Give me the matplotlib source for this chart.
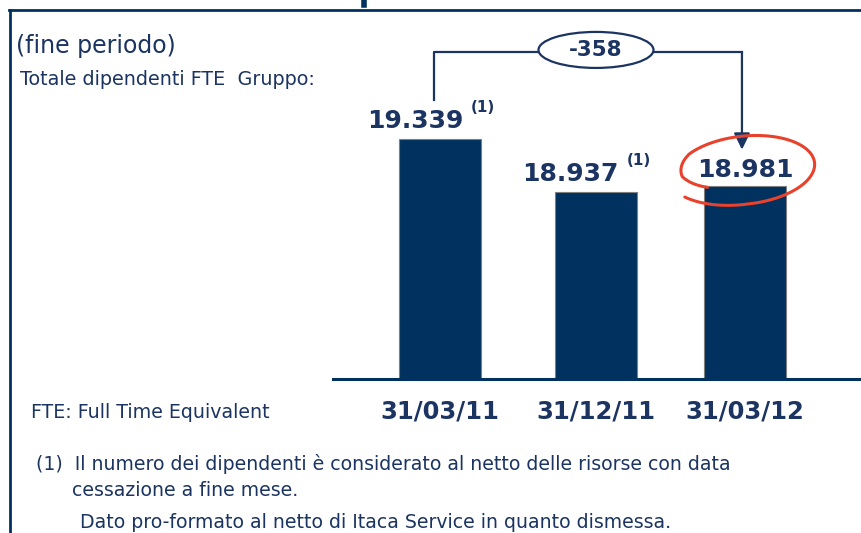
import numpy as np
import matplotlib
matplotlib.use("Agg")
import matplotlib.pyplot as plt
from matplotlib.patches import Ellipse
from matplotlib.lines import Line2D
from matplotlib.transforms import IdentityTransform

# --------------------------------------------------
# DATA
# --------------------------------------------------
dates = ["31/03/11", "31/12/11", "31/03/12"]
values = [19339, 18937, 18981]
notes = ["(1)", "(1)", ""]

footnotes = [
    "(1)  Il numero dei dipendenti è considerato al netto delle risorse con data",
    "cessazione a fine mese.",
    "Dato pro-formato al netto di Itaca Service in quanto dismessa.",
]

NAVY = "#00315f"
TEXT = "#1b3461"
RED = "#e8412c"
W, H = 861, 533

plt.rcParams["font.family"] = ["DejaVu Sans"]


def fmt(v):
    return f"{v:,}".replace(",", ".")


def fx(px):
    return px / W


def fy(py):
    return 1 - py / H


fig = plt.figure(figsize=(W / 100, H / 100), dpi=100)
ax = fig.add_axes([fx(333), fy(379), fx(861 - 333), (379 - 9) / H])

xpos = [0, 1, 1.955]
ax.bar(xpos, values, width=0.526, color=NAVY, edgecolor="#7f7f7f",
       linewidth=0.8, zorder=2)
ax.set_xlim(-0.686, 2.699)
ax.set_ylim(17536, 20311)

for s in ["top", "left", "right"]:
    ax.spines[s].set_visible(False)
ax.spines["bottom"].set_color(NAVY)
ax.spines["bottom"].set_linewidth(2.2)
ax.set_yticks([])
ax.set_xticks(xpos)
ax.set_xticklabels(dates, fontsize=17.5, fontweight="bold", color=TEXT)
ax.tick_params(axis="x", length=0, pad=15)

# value labels (with footnote marker)
for x, v, n in zip(xpos, values, notes):
    if n:
        ax.annotate(fmt(v), (x, v), xytext=(23, 11), textcoords="offset pixels",
                    ha="right", va="baseline", fontsize=18, fontweight="bold",
                    color=TEXT)
        ax.annotate(n, (x, v), xytext=(31, 27), textcoords="offset pixels",
                    ha="left", va="baseline", fontsize=11, fontweight="bold",
                    color=TEXT)
    else:
        ax.annotate(fmt(v), (x, v), xytext=(0, 9), textcoords="offset pixels",
                    ha="center", va="baseline", fontsize=18, fontweight="bold",
                    color=TEXT)

# bracket with the delta
top_y = max(values) + 650
xl = xpos[0] - 6 / 156
xr = xpos[2] - 3 / 156
ax.plot([xl, xl, xr], [values[0] + 290, top_y, top_y], color=TEXT, lw=1.6,
        zorder=3, clip_on=False)
ax.annotate("", xy=(xr, values[2] + 275), xytext=(xr, top_y),
            arrowprops=dict(arrowstyle="-|>,head_length=0.45,head_width=0.22",
                            mutation_scale=22, color=TEXT, lw=1.6,
                            shrinkA=0, shrinkB=0), zorder=3)
ax.add_patch(Ellipse((xpos[1], top_y + 15), 115 / 156, 36 * 7.5,
                     facecolor="white", edgecolor=TEXT, lw=1.6, zorder=4,
                     clip_on=False))
ax.text(xpos[1], top_y + 15, f"{values[2] - values[0]}", ha="center",
        va="center", fontsize=15.5, fontweight="bold", color=TEXT, zorder=5)

# hand-drawn red circle around the last value
fig.canvas.draw()
cx, cy = ax.transData.transform((xpos[2], values[2] + 122))
t = np.radians(np.linspace(214, 575, 300))
r = np.interp(np.degrees(t), [214, 270, 500, 540, 575], [1.08, 1.0, 1.0, 0.9, 0.68])
a, b, rot = 70, 34, np.radians(6)
ex = r * a * np.cos(t)
ey = r * b * np.sin(t)
px = cx + ex * np.cos(rot) - ey * np.sin(rot)
py = cy + ex * np.sin(rot) + ey * np.cos(rot)
fig.add_artist(Line2D(px, py, transform=IdentityTransform(), color=RED,
                      lw=2.2, solid_capstyle="round", zorder=10))

# frame of the slide
fig.add_artist(Line2D([fx(9), 1], [fy(9.5), fy(9.5)], color=NAVY, lw=2))
fig.add_artist(Line2D([fx(9.5), fx(9.5)], [0, fy(9.5)], color=NAVY, lw=2))
fig.add_artist(Line2D([fx(363.5), fx(363.5)], [1, fy(5)], color=NAVY, lw=4))

# texts
fig.text(fx(16), fy(53), "(fine periodo)", fontsize=17, color=TEXT,
         va="baseline")
fig.text(fx(20), fy(85), "Totale dipendenti FTE  Gruppo:", fontsize=13.8,
         color=TEXT, va="baseline")
fig.text(fx(31), fy(418), "FTE: Full Time Equivalent", fontsize=13.7,
         color=TEXT, va="baseline")
for xx, yy, line in zip([36, 72, 80], [470, 496, 528], footnotes):
    fig.text(fx(xx), fy(yy), line, fontsize=13.6, color=TEXT, va="baseline")

fig.savefig("out.png", dpi=100)
